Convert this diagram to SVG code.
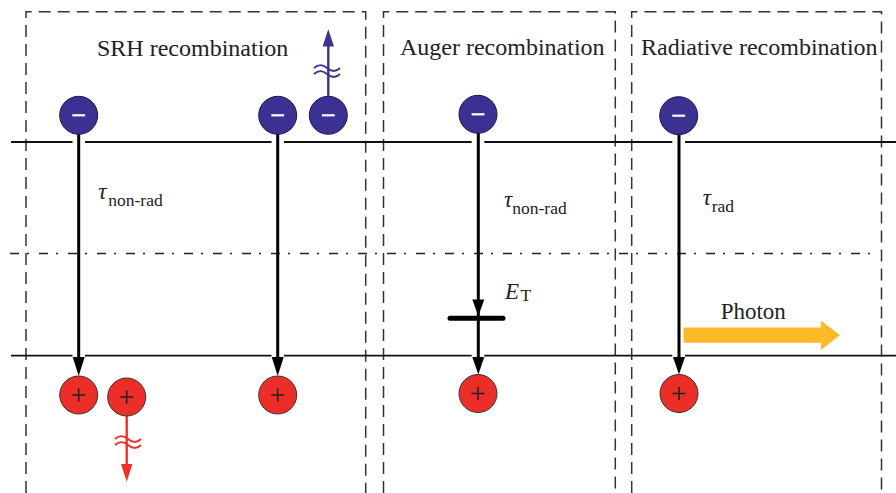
<svg xmlns="http://www.w3.org/2000/svg" width="896" height="493" viewBox="0 0 896 493">
<style>
.box{fill:none;stroke:#333;stroke-width:1.5;stroke-dasharray:12 7}
.lvl{stroke:#111;stroke-width:1.8;fill:none}
.dd{stroke:#222;stroke-width:1.3;fill:none;stroke-dasharray:9 8 2 10}
.ttl{font-family:"Liberation Serif","Times New Roman",serif;font-size:24px;fill:#222}
.lbl{font-family:"Liberation Serif","Times New Roman",serif;fill:#222}
.el{fill:#3a3192;stroke:#1c1850;stroke-width:1}
.mn{stroke:#fff;stroke-width:2.2}
.ho{fill:#ec2e29;stroke:#333;stroke-width:1}
.pl{stroke:#222;stroke-width:1.6}
.arr{stroke:#000;stroke-width:3;fill:none}
.hd{fill:#000}
</style>
<g id="frames">
<path class="box" d="M26,493 V11.7 H365.7 V493"/>
<path class="box" d="M383.5,493 V11.7 H615.3 V493"/>
<path class="box" d="M631.7,493 V11.7 H881.5 V493"/>
</g>
<g id="levels">
<path class="lvl" d="M11,142 H72.5 M85,142 H271.5 M284,142 H471.7 M484.3,142 H672.3 M685,142 H896"/>
<path class="lvl" d="M11,355.7 H72.5 M85,355.7 H271.5 M284,355.7 H471.7 M484.3,355.7 H672.3 M685,355.7 H896"/>
<path class="dd" d="M10,253.5 H872"/>
</g>
<g id="titles">
<text class="ttl" x="97" y="56">SRH recombination</text>
<text class="ttl" x="400" y="55">Auger recombination</text>
<text class="ttl" x="641" y="55">Radiative recombination</text>
</g>
<g id="connectors">
<line class="arr" x1="78.7" y1="134" x2="78.7" y2="360"/>
<polygon class="hd" points="72.7,357 84.7,357 78.7,376"/>
<line class="arr" x1="277.7" y1="134" x2="277.7" y2="360"/>
<polygon class="hd" points="271.7,357 283.7,357 277.7,376"/>
<line class="arr" x1="478.3" y1="133" x2="478.3" y2="360"/>
<polygon class="hd" points="472.3,299.5 484.3,299.5 478.3,316"/>
<polygon class="hd" points="472.3,357 484.3,357 478.3,374.5"/>
<line class="arr" x1="679" y1="134" x2="679" y2="360"/>
<polygon class="hd" points="673,357 685,357 679,374.5"/>
<line x1="450" y1="318.3" x2="503" y2="318.3" stroke="#000" stroke-width="5" stroke-linecap="round"/>
<g id="escape-e" stroke="#3c3494" fill="none" stroke-width="2.4">
<line x1="328.3" y1="97" x2="328.3" y2="45"/>
<polygon points="322.6,46.5 334,46.5 328.3,29.3" fill="#3c3494" stroke="none"/>
<path d="M314,68 c4.5,-4 8.5,-4 13,0 s9,4 13,0" stroke-width="1.8"/>
<path d="M314,74 c4.5,-4 8.5,-4 13,0 s9,4 13,0" stroke-width="1.8"/>
</g>
<g id="escape-h" stroke="#ee2f2a" fill="none" stroke-width="2.4">
<line x1="126.7" y1="416" x2="126.7" y2="466"/>
<polygon points="121,464 132.4,464 126.7,481.7" fill="#ee2f2a" stroke="none"/>
<path d="M115,439 c4.5,-4 8.5,-4 13,0 s9,4 13,0" stroke-width="1.8"/>
<path d="M115,445 c4.5,-4 8.5,-4 13,0 s9,4 13,0" stroke-width="1.8"/>
</g>
<g id="photon">
<polygon fill="#fcb928" points="683.5,327.5 821,327.5 821,320.7 840,335 821,350 821,342.7 683.5,342.7"/>
</g>
</g>
<g id="e1"><circle class="el" cx="78.7" cy="115.3" r="19"/><line class="mn" x1="72.3" y1="115.3" x2="85.1" y2="115.3"/></g>
<g id="e2"><circle class="el" cx="277.7" cy="115.3" r="19"/><line class="mn" x1="271.3" y1="115.3" x2="284.1" y2="115.3"/></g>
<g id="e3"><circle class="el" cx="328.3" cy="115.3" r="19"/><line class="mn" x1="321.9" y1="115.3" x2="334.7" y2="115.3"/></g>
<g id="e4"><circle class="el" cx="478" cy="114.3" r="19"/><line class="mn" x1="471.6" y1="114.3" x2="484.4" y2="114.3"/></g>
<g id="e5"><circle class="el" cx="678.7" cy="115.7" r="19"/><line class="mn" x1="672.3" y1="115.7" x2="685.1" y2="115.7"/></g>
<g id="h1"><circle class="ho" cx="78.7" cy="395" r="19"/><path class="pl" d="M72.2,395 H85.2 M78.7,388.5 V401.5"/></g>
<g id="h2"><circle class="ho" cx="126.7" cy="397" r="19"/><path class="pl" d="M120.2,397 H133.2 M126.7,390.5 V403.5"/></g>
<g id="h3"><circle class="ho" cx="277.7" cy="395" r="19"/><path class="pl" d="M271.2,395 H284.2 M277.7,388.5 V401.5"/></g>
<g id="h4"><circle class="ho" cx="478" cy="393.5" r="19"/><path class="pl" d="M471.5,393.5 H484.5 M478,387 V400"/></g>
<g id="h5"><circle class="ho" cx="679" cy="393.5" r="19"/><path class="pl" d="M672.5,393.5 H685.5 M679,387 V400"/></g>
<g id="labels">
<text class="lbl" x="98.3" y="199" font-size="23" font-style="italic">τ</text>
<text class="lbl" x="108.3" y="205.5" font-size="17.5">non-rad</text>
<text class="lbl" x="504" y="207" font-size="23" font-style="italic">τ</text>
<text class="lbl" x="512.3" y="214" font-size="17.5">non-rad</text>
<text class="lbl" x="702.7" y="205" font-size="23" font-style="italic">τ</text>
<text class="lbl" x="711.7" y="212" font-size="17.5">rad</text>
<text class="lbl" x="505" y="298.5" font-size="23" font-style="italic">E</text>
<text class="lbl" x="520.5" y="301" font-size="17.5">T</text>
<text class="lbl" x="720.7" y="318.5" font-size="23">Photon</text>
</g>
</svg>
